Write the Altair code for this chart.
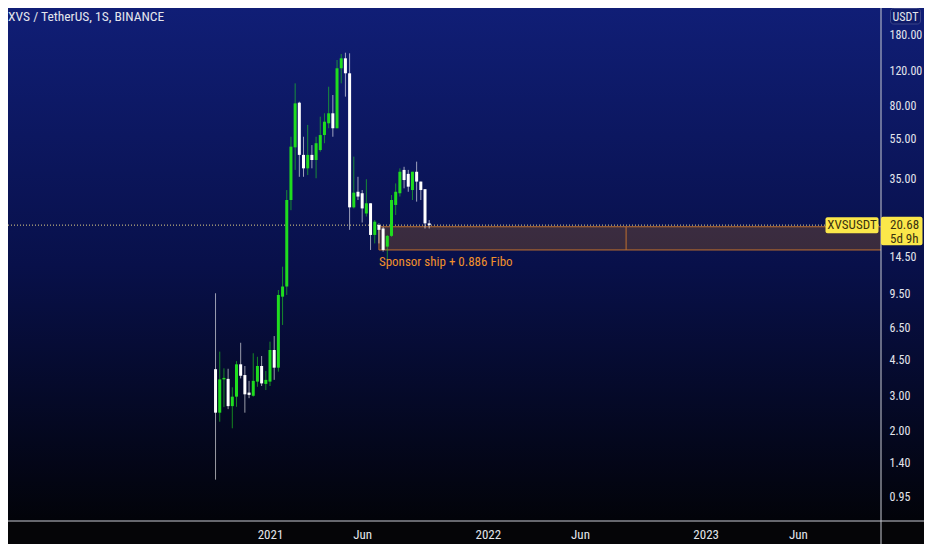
import altair as alt
import numpy as np
import pandas as pd

# ---------------- data ----------------
TITLE = "XVS / TetherUS, 1S, BINANCE"
SYMBOL = "XVSUSDT"
CURRENCY = "USDT"
LAST_PRICE = 20.68
COUNTDOWN = "5d 9h"
ANNOTATION = "Sponsor ship + 0.886 Fibo"

first_week = "2020-10-05"
opens = [4.03, 2.46, 3.59, 3.61, 2.65, 2.95, 4.26, 3.77, 3.09, 2.98, 3.50, 4.18, 3.41,
         3.50, 5.01, 4.10, 9.18, 10.3, 27.5, 50.0, 83.0, 45.9, 39.4, 45.9, 43.3, 48.5,
         57.5, 65.7, 73.6, 62.1, 122.7, 137.4, 115.9, 25.3, 30.2, 29.7, 23.6, 26.5, 18.5,
         20.7, 19.9, 16.2, 18.3, 26.0, 29.7, 38.7, 37.0, 30.8, 37.9, 33.9, 31.1, 21.1]
highs = [9.54, 4.92, 4.07, 4.05, 3.28, 4.42, 5.44, 4.18, 3.53, 4.83, 4.64, 4.68, 3.95,
         5.51, 5.87, 9.90, 12.9, 30.8, 56.4, 103.4, 83.9, 56.4, 64.5, 51.3, 56.4, 70.8,
         73.6, 99.5, 90.6, 134.8, 144.3, 146.4, 145.4, 45.0, 35.8, 30.8, 34.8, 26.5, 21.9,
         21.1, 20.3, 18.5, 29.1, 33.2, 39.4, 40.1, 38.7, 37.9, 42.5, 33.9, 31.1, 21.9]
lows = [1.15, 2.22, 2.62, 2.56, 2.06, 2.63, 3.63, 2.46, 2.90, 2.95, 3.30, 3.33, 3.18,
        3.33, 3.57, 3.92, 6.66, 9.36, 24.5, 38.7, 35.8, 35.8, 36.5, 39.4, 35.2, 47.6,
        52.4, 62.1, 56.4, 62.1, 103.4, 88.9, 19.6, 25.0, 27.5, 21.3, 22.8, 15.6, 16.8,
        16.8, 15.3, 13.9, 18.1, 23.2, 28.6, 31.4, 30.2, 27.5, 27.0, 27.5, 19.9, 19.9]
closes = [2.46, 3.59, 3.65, 2.65, 2.95, 4.26, 3.74, 3.03, 3.01, 3.53, 4.18, 3.43, 3.57,
          5.01, 4.10, 9.36, 10.3, 27.5, 50.4, 82.4, 45.9, 39.4, 45.9, 43.3, 52.4, 57.5,
          66.9, 73.6, 62.1, 122.7, 137.4, 115.9, 25.3, 29.9, 28.6, 25.0, 26.5, 18.5, 21.5,
          19.6, 15.6, 18.3, 27.5, 30.2, 37.9, 34.5, 32.0, 37.9, 33.9, 30.8, 21.1, 20.68]

# support zone drawn on the chart
zone_start = "2021-07-05"
zone_mid = "2022-08-22"
zone_end = "2024-06-03"
zone_top = 20.3
zone_bottom = 15.6
annotation_price = 13.65

# axes
x_tick_dates = ["2021-01-04", "2021-06-07", "2022-01-03", "2022-06-06", "2023-01-02", "2023-06-05"]
x_tick_labels = ["2021", "Jun", "2022", "Jun", "2023", "Jun"]
y_ticks = [0.95, 1.4, 2, 3, 4.5, 6.5, 9.5, 14.5, 35, 55, 80, 120, 180]
view_start = "2019-10-24T05:00:00"
view_end = "2023-10-21T22:00:00"
price_min, price_max = 0.7193, 243.2

# ---------------- styling ----------------
FONT = "Liberation Sans Narrow, Arial Narrow, Roboto Condensed, DejaVu Sans Condensed, Roboto, sans-serif"
TXT = "#e3e5ec"
UP = "#1fdc1f"
DOWN = "#ffffff"
ORANGE = "#f0902c"
YELLOW = "#fbe74a"
W, H = 873, 513
TOTAL_W, TOTAL_H = 916, 536


def ms(s):
    return int(pd.Timestamp(s, tz="UTC").value // 10**6)


def iso(s):
    return pd.Timestamp(s).strftime("%Y-%m-%dT%H:%M:%SZ")


weeks = pd.date_range(first_week, periods=len(opens), freq="7D")
candles = pd.DataFrame({
    "date": [d.strftime("%Y-%m-%dT00:00:00Z") for d in weeks],
    "open": opens, "high": highs, "low": lows, "close": closes,
})
candles["dir"] = np.where(candles["close"] >= candles["open"], "up", "down")

xscale = alt.Scale(type="utc", domain=[ms(view_start), ms(view_end)], nice=False, padding=0)
yscale = alt.Scale(type="log", domain=[price_min, price_max], nice=False, zero=False, padding=0)
cscale = alt.Scale(domain=["up", "down"], range=[UP, DOWN])

label_expr = " : ".join(
    f"time(datum.value) == {ms(d)} ? '{l}'" for d, l in zip(x_tick_dates, x_tick_labels)
) + " : ''"

one = pd.DataFrame({"k": [0]})

bg = alt.Chart(one).mark_rect(
    fill=alt.LinearGradient(
        gradient="linear",
        stops=[alt.GradientStop(offset=0, color="#101e76"),
               alt.GradientStop(offset=0.5, color="#08104a"),
               alt.GradientStop(offset=1, color="#020309")],
        x1=0, x2=0, y1=0, y2=1),
).encode(x=alt.value(0), x2=alt.value(TOTAL_W), y=alt.value(0), y2=alt.value(H))

frame_h = alt.Chart(one).mark_rule(color="#c9ccd4", strokeWidth=1).encode(
    x=alt.value(0), x2=alt.value(TOTAL_W), y=alt.value(H))
frame_v = alt.Chart(one).mark_rule(color="#c9ccd4", strokeWidth=1).encode(
    x=alt.value(W), y=alt.value(0), y2=alt.value(TOTAL_H))

zone_df = pd.DataFrame({"start": [iso(zone_start)], "end": [iso(zone_end)], "mid": [iso(zone_mid)],
                        "top": [zone_top], "bottom": [zone_bottom]})
zone = alt.Chart(zone_df).mark_rect(
    fill="#ff9800", fillOpacity=0.2, stroke="#c0702e", strokeWidth=1, clip=True
).encode(
    x=alt.X("start:T", scale=xscale, title=None), x2="end:T",
    y=alt.Y("top:Q", scale=yscale, title=None), y2="bottom:Q")
zone_line = alt.Chart(zone_df).mark_rule(color="#c0702e", strokeWidth=1).encode(
    x=alt.X("mid:T", scale=xscale, title=None),
    y=alt.Y("top:Q", scale=yscale, title=None), y2="bottom:Q")

last_df = pd.DataFrame({"price": [LAST_PRICE], "sym": [SYMBOL], "ptxt": [f"{LAST_PRICE:.2f}"],
                        "cd": [COUNTDOWN]})
price_line = alt.Chart(last_df).mark_rule(color="#e6d488", strokeWidth=1, strokeDash=[1, 2]).encode(
    x=alt.value(0), x2=alt.value(W), y=alt.Y("price:Q", scale=yscale, title=None))

wicks = alt.Chart(candles).mark_rule(strokeWidth=1, opacity=0.6).encode(
    x=alt.X("date:T", scale=xscale, title=None),
    y=alt.Y("low:Q", scale=yscale, title=None), y2="high:Q",
    color=alt.Color("dir:N", scale=cscale, legend=None))

bodies = alt.Chart(candles).mark_bar(size=3).encode(
    x=alt.X("date:T", scale=xscale, title=None,
            axis=alt.Axis(values=[ms(d) for d in x_tick_dates], labelExpr=label_expr,
                          title=None, orient="bottom", ticks=False, tickSize=0, domain=False,
                          grid=False, labelPadding=7, labelFontSize=13, labelFont=FONT,
                          labelColor=TXT, labelFlush=False, labelOverlap=False, zindex=1)),
    y=alt.Y("open:Q", scale=yscale, title=None,
            axis=alt.Axis(values=y_ticks, format=".2f", orient="right", title=None,
                          ticks=False, tickSize=0, domain=False, grid=False,
                          labelPadding=8, labelFontSize=12, labelFont=FONT, labelColor=TXT,
                          labelBaseline="middle", labelOverlap=False, zindex=1)),
    y2="close:Q",
    color=alt.Color("dir:N", scale=cscale, legend=None))

ann_df = pd.DataFrame({"date": [iso(zone_start)], "price": [annotation_price], "label": [ANNOTATION]})
annotation = alt.Chart(ann_df).mark_text(
    align="left", baseline="middle", font=FONT, fontSize=13, color=ORANGE
).encode(x=alt.X("date:T", scale=xscale, title=None),
         y=alt.Y("price:Q", scale=yscale, title=None), text="label:N")

title = alt.Chart(one).mark_text(
    text=TITLE, align="left", baseline="middle", font=FONT, fontSize=13.5, color=TXT
).encode(x=alt.value(0), y=alt.value(9))

sym_box = alt.Chart(last_df).mark_rect(fill=YELLOW, cornerRadius=2, yOffset=-8, y2Offset=8).encode(
    x=alt.value(817.5), x2=alt.value(870.5),
    y=alt.Y("price:Q", scale=yscale, title=None), y2="price:Q")
sym_txt = alt.Chart(last_df).mark_text(font=FONT, fontSize=13, color="#3a3210", baseline="middle").encode(
    x=alt.value(844), y=alt.Y("price:Q", scale=yscale, title=None), text="sym:N")
price_box = alt.Chart(last_df).mark_rect(fill=YELLOW, cornerRadius=2, yOffset=-8.5, y2Offset=20).encode(
    x=alt.value(W), x2=alt.value(914.5),
    y=alt.Y("price:Q", scale=yscale, title=None), y2="price:Q")
price_txt = alt.Chart(last_df).mark_text(font=FONT, fontSize=13, color="#3a3210", baseline="middle",
                                         align="left").encode(
    x=alt.value(882), y=alt.Y("price:Q", scale=yscale, title=None), text="ptxt:N")
cd_txt = alt.Chart(last_df).mark_text(font=FONT, fontSize=13, color="#3a3210", baseline="middle",
                                      align="left", dy=14).encode(
    x=alt.value(882), y=alt.Y("price:Q", scale=yscale, title=None), text="cd:N")

cur_box = alt.Chart(one).mark_rect(fill="#0f1b6a", stroke="#3b4488", strokeWidth=1, cornerRadius=3).encode(
    x=alt.value(882.5), x2=alt.value(912.5), y=alt.value(0.5), y2=alt.value(16))
cur_txt = alt.Chart(one).mark_text(text=CURRENCY, font=FONT, fontSize=12, color=TXT, baseline="middle").encode(
    x=alt.value(897.5), y=alt.value(8.5))

chart = alt.layer(
    bg, zone, zone_line, price_line, wicks, bodies, annotation, title,
    frame_h, frame_v, sym_box, sym_txt, price_box, price_txt, cd_txt, cur_box, cur_txt,
).properties(
    width=W, height=H,
    autosize=alt.AutoSizeParams(type="none"),
    padding={"left": 0, "top": 0, "right": TOTAL_W - W, "bottom": TOTAL_H - H},
    background="#050507",
).configure_view(stroke=None)

chart.save("out.html", embed_options={"renderer": "svg", "actions": False})
